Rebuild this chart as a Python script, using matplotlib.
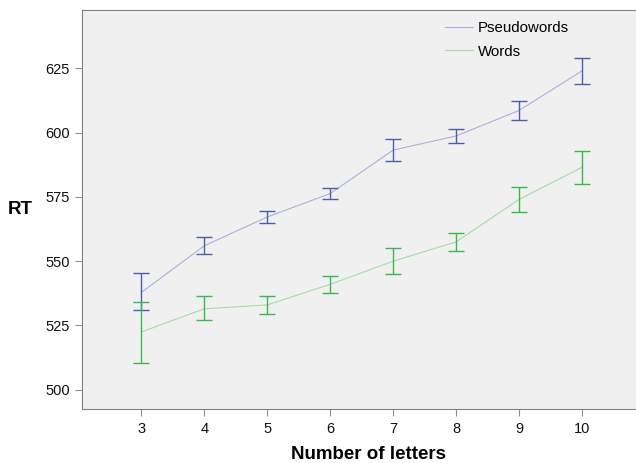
import matplotlib
matplotlib.use("Agg")
import matplotlib.pyplot as plt
import numpy as np

plt.rcParams['font.family'] = ['Liberation Sans', 'DejaVu Sans']

letters = [3, 4, 5, 6, 7, 8, 9, 10]
pseudo_mean = [537.9, 556.0, 567.2, 576.3, 593.2, 598.7, 608.6, 624.0]
pseudo_hi = [545.3, 559.3, 569.6, 578.6, 597.5, 601.4, 612.4, 629.0]
pseudo_lo = [531.0, 552.7, 564.9, 574.0, 589.0, 596.0, 605.0, 619.0]
words_mean = [522.5, 531.5, 533.0, 541.0, 550.0, 557.5, 574.0, 586.5]
words_hi = [534.0, 536.6, 536.5, 544.2, 555.0, 561.0, 579.0, 593.0]
words_lo = [510.5, 527.0, 529.6, 537.6, 545.0, 554.0, 569.0, 580.0]
yticks = [500, 525, 550, 575, 600, 625]

fig = plt.figure(figsize=(6.36, 4.63), dpi=100)
ax = fig.add_axes([0.1294, 0.116, 0.8706, 0.863])
ax.set_facecolor('#f0f0f0')

x = np.array(letters)

def draw(mean, hi, lo, lc, ec, label):
    mean = np.array(mean); hi = np.array(hi); lo = np.array(lo)
    ax.plot(x, mean, color=lc, lw=0.8, label=label, zorder=2)
    ax.errorbar(x, mean, yerr=[mean - lo, hi - mean], fmt='none',
                ecolor=ec, elinewidth=1.0, capsize=5.8, capthick=1.0, zorder=3)

draw(pseudo_mean, pseudo_hi, pseudo_lo, '#a8b0de', '#4d5ca8', 'Pseudowords')
draw(words_mean, words_hi, words_lo, '#a2dca6', '#3cb64e', 'Words')

ax.set_xlim(2.06, 10.86)
ax.set_ylim(492.4, 647.8)
ax.set_xticks(letters)
ax.set_yticks(yticks)
ax.tick_params(axis='both', direction='out', length=5, width=0.8,
               color='#909090', labelsize=10.5, labelcolor='#111111', pad=4)

for s in ['left', 'bottom', 'top']:
    ax.spines[s].set_color('#808080')
    ax.spines[s].set_linewidth(0.8)
ax.spines['right'].set_visible(False)

ax.set_xlabel('Number of letters', fontsize=13.5, fontweight='bold', labelpad=7)
ax.xaxis.set_label_coords(0.516, -0.093)
ax.set_ylabel('RT', fontsize=13.5, fontweight='bold', rotation=0, labelpad=18, va='center')

leg = ax.legend(loc='upper left', bbox_to_anchor=(0.635, 1.0), frameon=False,
                fontsize=10.8, handlelength=1.85, handletextpad=0.35, labelspacing=0.64,
                borderaxespad=0.35)

fig.savefig('out.png', dpi=100, facecolor='white')
